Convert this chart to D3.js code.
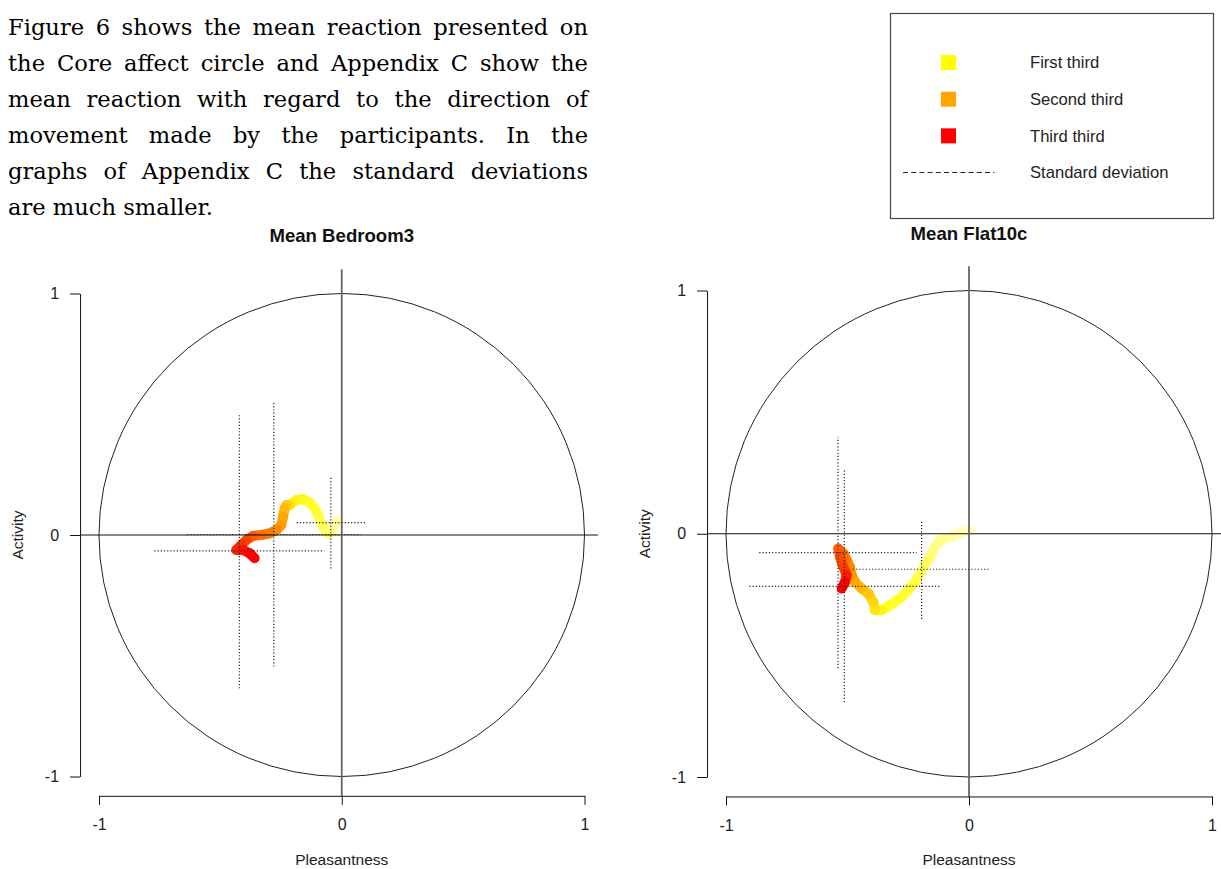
<!DOCTYPE html>
<meta charset="utf-8">
<title>Mean reaction on the core affect circle</title>
<style>
body { margin: 0; background: #fff; }
#text { position: absolute; left: 8px; top: 9px; width: 580px; font-family: "DejaVu Serif", serif; font-size: 22.6px; color: #000; }
#text div { height: 36px; line-height: 36px; text-align: justify; text-align-last: justify; }
#text div.last { text-align-last: left; }
svg { position: absolute; left: 0; top: 0; font-family: "Liberation Sans", Arial, sans-serif; }
.axis path, .axis line { stroke: #111; }
.axis text { fill: #222; font-size: 16px; font-family: "Liberation Sans", Arial, sans-serif; }
</style>
<div id="text"></div>
<svg width="1221" height="869"></svg>
<script src="https://d3js.org/d3.v7.min.js"></script>
<script>
const paragraphLines = [
  "Figure 6 shows the mean reaction presented on",
  "the Core affect circle and Appendix C show the",
  "mean reaction with regard to the direction of",
  "movement made by the participants. In the",
  "graphs of Appendix C the standard deviations",
  "are much smaller."
];

const axisTicks = [-1, 0, 1];
const panelTitles = ["Mean Bedroom3", "Mean Flat10c"];
const xLabel = "Pleasantness";
const yLabel = "Activity";
const legendLabels = ["First third", "Second third", "Third third", "Standard deviation"];
const legendColors = ["#ffff00", "#ffa500", "#ff0000"];

// mean trajectory, t = share of the trial elapsed
const bedroomX = [-0.015, -0.029, -0.036, -0.056, -0.070, -0.084, -0.098, -0.111, -0.132, -0.160, -0.187, -0.214, -0.228,
  -0.235, -0.242, -0.249, -0.269, -0.297, -0.331, -0.366, -0.393, -0.414, -0.434, -0.407, -0.379, -0.359];
const bedroomY = [0.062, 0.041, 0.014, 0.004, 0.021, 0.048, 0.083, 0.111, 0.134, 0.149, 0.145, 0.124, 0.124,
  0.111, 0.076, 0.041, 0.021, 0.007, 0.000, -0.004, -0.021, -0.041, -0.062, -0.062, -0.076, -0.096];
const bedroomT = [0, 0.04, 0.08, 0.12, 0.16, 0.2, 0.24, 0.27, 0.3, 0.32, 0.34, 0.36, 0.4,
  0.44, 0.48, 0.52, 0.56, 0.6, 0.64, 0.68, 0.74, 0.8, 0.86, 0.9, 0.95, 1];
// mean and sd of each third
const bedroomMeanX = [-0.045, -0.280, -0.422];
const bedroomMeanY = [0.051, 0.002, -0.066];
const bedroomSdX = [0.141, 0.357, 0.350];
const bedroomSdY = [0.190, 0.547, 0.569];

const flatX = [0.004, -0.037, -0.078, -0.119, -0.140, -0.160, -0.181, -0.202, -0.222, -0.250, -0.284, -0.325, -0.359, -0.387,
  -0.394, -0.414, -0.442, -0.469, -0.483, -0.490, -0.503, -0.517, -0.538, -0.531, -0.517, -0.503, -0.510, -0.524];
const flatY = [0.014, 0.001, -0.013, -0.027, -0.054, -0.095, -0.129, -0.163, -0.198, -0.232, -0.266, -0.294, -0.314, -0.314,
  -0.280, -0.246, -0.225, -0.198, -0.170, -0.136, -0.109, -0.081, -0.061, -0.095, -0.136, -0.170, -0.198, -0.225];
const flatT = [0, 0.03, 0.06, 0.09, 0.12, 0.15, 0.18, 0.21, 0.24, 0.27, 0.29, 0.31, 0.33, 0.36,
  0.39, 0.42, 0.45, 0.48, 0.52, 0.56, 0.6, 0.64, 0.67, 0.72, 0.78, 0.84, 0.92, 1];
const flatMeanX = [-0.195, -0.539, -0.513];
const flatMeanY = [-0.146, -0.078, -0.216];
const flatSdX = [0.283, 0.324, 0.391];
const flatSdY = [0.204, 0.475, 0.476];

d3.select("#text").selectAll("div")
  .data(paragraphLines)
  .join("div")
  .classed("last", (d, i) => i === paragraphLines.length - 1)
  .text(d => d);

const svg = d3.select("svg");

const color = d3.scaleLinear()
  .domain([0, 0.33, 0.5, 0.67, 1])
  .range(["#ffffd0", "#ffff20", "#ffb000", "#ff7000", "#ff0000"]);

const xlim = [-1.078, 1.055], ylim = [-1.08, 1.1];

const panels = [
  { title: panelTitles[0], xs: bedroomX, ys: bedroomY, ts: bedroomT,
    mx: bedroomMeanX, my: bedroomMeanY, sx: bedroomSdX, sy: bedroomSdY,
    xr: [99, 584.5], yr: [776.5, 293.5], titleY: 242 },
  { title: panelTitles[1], xs: flatX, ys: flatY, ts: flatT,
    mx: flatMeanX, my: flatMeanY, sx: flatSdX, sy: flatSdY,
    xr: [726, 1212], yr: [777, 290.5], titleY: 240 }
];

panels.forEach(p => {
  const x = d3.scaleLinear().domain([-1, 1]).range(p.xr);
  const y = d3.scaleLinear().domain([-1, 1]).range(p.yr);
  const g = svg.append("g");

  g.append("ellipse")
    .attr("cx", x(0)).attr("cy", y(0))
    .attr("rx", x(1) - x(0)).attr("ry", y(-1) - y(0))
    .attr("fill", "none").attr("stroke", "#222").attr("stroke-width", 1);

  // trajectory
  const pts = p.xs.map((v, i) => ({ x: v, y: p.ys[i], t: p.ts[i] }));
  const trail = g.append("g");
  trail.selectAll("line")
    .data(pts.slice(1))
    .join("line")
    .attr("x1", (d, i) => x(pts[i].x)).attr("y1", (d, i) => y(pts[i].y))
    .attr("x2", d => x(d.x)).attr("y2", d => y(d.y))
    .attr("stroke", d => color(d.t))
    .attr("stroke-width", 10)
    .attr("stroke-linecap", "round");

  // zero lines
  g.append("line")
    .attr("x1", x(xlim[0])).attr("x2", x(xlim[1]))
    .attr("y1", y(0)).attr("y2", y(0))
    .attr("stroke", "#111").attr("stroke-width", 1);
  g.append("line")
    .attr("x1", x(0)).attr("x2", x(0))
    .attr("y1", y(ylim[0])).attr("y2", y(ylim[1]))
    .attr("stroke", "#666").attr("stroke-width", 1.8);

  // standard deviation crosses
  const sd = g.append("g")
    .attr("stroke", "#222").attr("stroke-width", 1.2)
    .attr("stroke-dasharray", "1.2,2");
  p.mx.forEach((m, i) => {
    sd.append("line")
      .attr("x1", x(m - p.sx[i])).attr("x2", x(m + p.sx[i]))
      .attr("y1", y(p.my[i])).attr("y2", y(p.my[i]));
    sd.append("line")
      .attr("x1", x(m)).attr("x2", x(m))
      .attr("y1", y(p.my[i] - p.sy[i])).attr("y2", y(p.my[i] + p.sy[i]));
  });

  // axes
  g.append("g").attr("class", "axis")
    .attr("transform", `translate(0,${y(ylim[0])})`)
    .call(d3.axisBottom(x).tickValues(axisTicks).tickSize(9).tickSizeOuter(0).tickPadding(14).tickFormat(d => String(d)));
  g.append("g").attr("class", "axis")
    .attr("transform", `translate(${x(xlim[0])},0)`)
    .call(d3.axisLeft(y).tickValues(axisTicks).tickSize(10).tickSizeOuter(0).tickPadding(11).tickFormat(d => String(d)));
  g.selectAll(".axis .domain").attr("fill", "none");

  g.append("text")
    .attr("x", x(0)).attr("y", p.titleY)
    .attr("text-anchor", "middle")
    .attr("font-weight", "bold").attr("font-size", 18.6)
    .attr("fill", "#111")
    .text(p.title);
  g.append("text")
    .attr("x", x(0)).attr("y", 865)
    .attr("text-anchor", "middle")
    .attr("font-size", 15.5).attr("fill", "#222")
    .text(xLabel);
  g.append("text")
    .attr("transform", `translate(${x(xlim[0]) - 57},${y(0)}) rotate(-90)`)
    .attr("text-anchor", "middle")
    .attr("font-size", 15.5).attr("fill", "#222")
    .text(yLabel);
});

// legend
const legend = svg.append("g").attr("transform", "translate(890.5,13.5)");
legend.append("rect")
  .attr("width", 323).attr("height", 205)
  .attr("fill", "none").attr("stroke", "#444").attr("stroke-width", 1.2);
const rowY = d3.scalePoint().domain(legendLabels).range([49, 159]);
legend.selectAll("rect.key")
  .data(legendColors)
  .join("rect")
  .attr("class", "key")
  .attr("x", 50.5).attr("y", (d, i) => rowY(legendLabels[i]) - 7.5)
  .attr("width", 15).attr("height", 15)
  .attr("fill", d => d);
legend.append("line")
  .attr("x1", 12.5).attr("x2", 104)
  .attr("y1", rowY(legendLabels[3])).attr("y2", rowY(legendLabels[3]))
  .attr("stroke", "#222").attr("stroke-width", 1)
  .attr("stroke-dasharray", "5,3.2");
legend.selectAll("text")
  .data(legendLabels)
  .join("text")
  .attr("x", 139.5).attr("y", d => rowY(d))
  .attr("dy", "0.36em")
  .attr("font-size", 16.6).attr("fill", "#222")
  .text(d => d);
</script>
